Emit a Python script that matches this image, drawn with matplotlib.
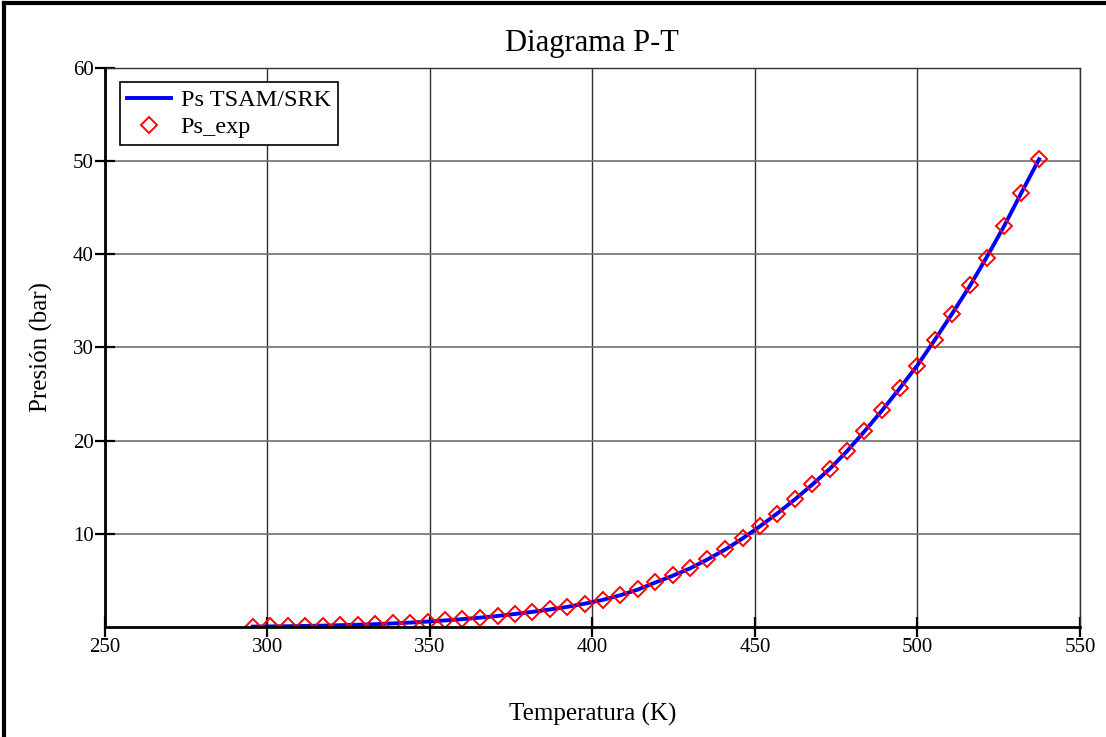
import numpy as np
import matplotlib.pyplot as plt
from matplotlib.lines import Line2D

# temperaturas (K) y presiones de saturacion (bar)
T_exp = [295.5, 300.9, 306.3, 311.6, 317.0, 322.4, 327.8, 333.1, 338.5, 343.9,
         349.3, 354.6, 360.0, 365.4, 370.8, 376.1, 381.5, 386.9, 392.3, 397.6,
         403.1, 408.5, 413.9, 419.2, 424.7, 430.1, 435.4, 440.8, 446.2, 451.5,
         456.9, 462.3, 467.7, 473.1, 478.4, 483.7, 489.0, 494.5, 500.0, 505.3,
         510.6, 516.1, 521.3, 526.6, 531.8, 537.4]
Ps_exp = [0.04, 0.06, 0.08, 0.11, 0.14, 0.19, 0.24, 0.30, 0.38, 0.47,
          0.58, 0.70, 0.84, 1.00, 1.18, 1.39, 1.62, 1.88, 2.14, 2.50,
          2.90, 3.45, 4.04, 4.85, 5.57, 6.29, 7.29, 8.36, 9.57, 10.86,
          12.1, 13.7, 15.3, 17.0, 18.9, 21.0, 23.3, 25.6, 28.0, 30.8,
          33.6, 36.7, 39.6, 43.0, 46.6, 50.2]
# curva del modelo TSAM/SRK
T_mod = T_exp
Ps_mod = [0.04, 0.06, 0.08, 0.11, 0.14, 0.19, 0.24, 0.30, 0.38, 0.47,
          0.58, 0.70, 0.84, 1.00, 1.18, 1.39, 1.62, 1.88, 2.16, 2.50,
          2.90, 3.40, 4.00, 4.75, 5.50, 6.30, 7.25, 8.30, 9.50, 10.80,
          12.2, 13.7, 15.3, 17.0, 18.9, 21.0, 23.2, 25.6, 28.1, 30.8,
          33.6, 36.6, 39.7, 43.0, 46.5, 50.2]

xticks = [250, 300, 350, 400, 450, 500, 550]
yticks = [10, 20, 30, 40, 50, 60]

plt.rcParams['font.family'] = ['Liberation Serif', 'DejaVu Serif']

fig = plt.figure(figsize=(11.06, 7.37), dpi=100)
ax = fig.add_axes([0.0948, 0.1493, 0.8817, 0.7584])

ax.plot(T_mod, Ps_mod, color='#0000ff', lw=2.8, label='Ps TSAM/SRK', zorder=3)
ax.plot(T_exp, Ps_exp, ls='none', marker='D', ms=8.5, mfc='none', mec='#ff0000',
        mew=1.4, label='Ps_exp', zorder=4)

ax.set_xlim(250, 550)
ax.set_ylim(0, 60)
ax.set_xticks(xticks)
ax.set_yticks(yticks)
ax.grid(True, axis='x', color='#303030', lw=1.0)
ax.grid(True, axis='y', color='#707070', lw=1.2)
ax.set_axisbelow(True)

for s in ['top', 'right']:
    ax.spines[s].set_linewidth(1)
    ax.spines[s].set_color('#303030')
for s in ['left', 'bottom']:
    ax.spines[s].set_linewidth(2)
    ax.spines[s].set_zorder(5)
ax.tick_params(direction='inout', length=14, width=1.6, labelsize=15, pad=1)

ax.set_title('Diagrama P-T', fontsize=22, pad=12)
ax.set_xlabel('Temperatura (K)', fontsize=18, labelpad=33)
ax.set_ylabel('Presión (bar)', fontsize=18, labelpad=14)

leg = ax.legend(loc='upper left', bbox_to_anchor=(0.0155, 0.975), fontsize=17.5,
                fancybox=False, edgecolor='black', framealpha=1,
                borderpad=0.3, handlelength=1.8, labelspacing=0.2,
                handletextpad=0.4, borderaxespad=0)
leg.get_frame().set_linewidth(1.2)

# marco de la figura
fig.add_artist(Line2D([0.004, 0.004], [0, 0.996], color='black', lw=3, transform=fig.transFigure))
fig.add_artist(Line2D([0.004, 1], [0.996, 0.996], color='black', lw=3, transform=fig.transFigure))

fig.savefig('out.png', dpi=100)
